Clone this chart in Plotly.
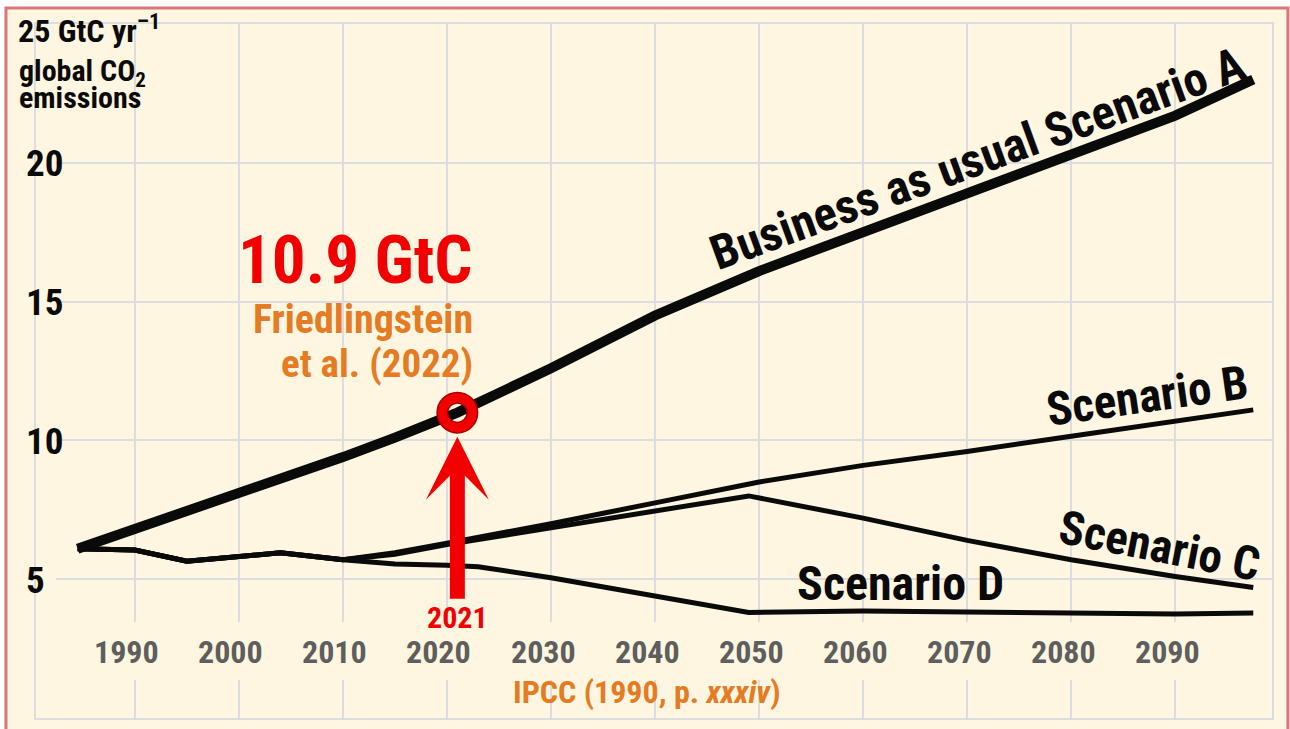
import plotly.graph_objects as go

# ---------------- data ----------------
years_A = [1984.5, 1990, 1995, 2000, 2005, 2010, 2015, 2021, 2030, 2040, 2050, 2060, 2070, 2080, 2090, 2097.5]
vals_A = [6.1, 6.8, 7.45, 8.15, 8.8, 9.4, 10.1, 11.0, 12.6, 14.5, 16.1, 17.5, 18.9, 20.3, 21.7, 23.0]

years_common = [1984.5, 1990, 1995, 2000, 2004, 2010]
vals_common = [6.1, 6.05, 5.65, 5.8, 5.95, 5.7]

years_B = [2015, 2020, 2030, 2040, 2050, 2060, 2070, 2080, 2090, 2097.5]
vals_B = [5.95, 6.3, 7.0, 7.75, 8.5, 9.1, 9.6, 10.15, 10.7, 11.1]

years_C = [2015, 2020, 2030, 2040, 2049, 2060, 2070, 2080, 2090, 2097.5]
vals_C = [5.9, 6.25, 6.85, 7.45, 8.0, 7.2, 6.4, 5.7, 5.1, 4.7]

years_D = [2015, 2020, 2023, 2030, 2040, 2049, 2060, 2070, 2080, 2090, 2097.5]
vals_D = [5.55, 5.5, 5.45, 5.05, 4.4, 3.8, 3.85, 3.82, 3.8, 3.75, 3.78]

obs_year = 2021
obs_value = 11.0
obs_label = "10.9 GtC"

x_ticks = [1990, 2000, 2010, 2020, 2030, 2040, 2050, 2060, 2070, 2080, 2090]
y_ticks = [5, 10, 15, 20]

# ---------------- styling ----------------
FONT = "Roboto Condensed, Liberation Sans, Arial, sans-serif"
CREAM = "#FEF6E0"
GRID = "#DDDDE1"
BORDER = "#D97679"
RED = "#F20000"
ORANGE = "#E57B22"
INK = "#0A0A0A"

X_RANGE = [1980.5, 2099.3]
Y_RANGE = [0, 25]

fig = go.Figure()

def add_line(xs, ys, width):
    fig.add_trace(go.Scatter(x=xs, y=ys, mode="lines",
                             line=dict(color=INK, width=width),
                             hoverinfo="skip", showlegend=False))

add_line(years_common + years_D, vals_common + vals_D, 5)
add_line(years_common + years_C, vals_common + vals_C, 5)
add_line(years_common + years_B, vals_common + vals_B, 5)
add_line(years_A, vals_A, 10)

# observed point ring
fig.add_trace(go.Scatter(x=[obs_year], y=[obs_value], mode="markers",
                         marker=dict(symbol="circle-open", size=30, color="#A80000",
                                     line=dict(width=12, color="#A80000")),
                         hoverinfo="skip", showlegend=False))
fig.add_trace(go.Scatter(x=[obs_year], y=[obs_value], mode="markers",
                         marker=dict(symbol="circle-open", size=30, color=RED,
                                     line=dict(width=9, color=RED)),
                         hoverinfo="skip", showlegend=False))

shapes = [
    # cream panel with border
    dict(type="rect", xref="paper", yref="paper", x0=-0.0243, x1=1.0129, y0=-0.03, y1=1.023,
         fillcolor=CREAM, line=dict(color=BORDER, width=3), layer="below"),
    # gap in vertical gridlines behind the x tick labels
    dict(type="rect", xref="x", yref="y", x0=X_RANGE[0], x1=X_RANGE[1], y0=1.37, y1=3.46,
         fillcolor=CREAM, line=dict(width=0), layer="between"),
    # horizontal gridlines start right of the y labels
    dict(type="rect", xref="x", yref="y", x0=X_RANGE[0], x1=1982.4, y0=Y_RANGE[0], y1=Y_RANGE[1],
         fillcolor=CREAM, line=dict(width=0), layer="between"),
]

annotations = []
for t in x_ticks:
    annotations.append(dict(x=t, y=2.38, xref="x", yref="y", text=f"<b>{t}</b>", showarrow=False,
                            xshift=-8, font=dict(family=FONT, size=32, color="#5E5E5E")))
for v in y_ticks:
    annotations.append(dict(x=0, y=v, xref="paper", yref="y", text=f"<b>{v}</b>", showarrow=False,
                            xanchor="left", xshift=-12, yshift=-1,
                            font=dict(family=FONT, size=37, color=INK)))

annotations += [
    dict(x=0, y=1, xref="paper", yref="paper", xanchor="left", yanchor="middle", xshift=-20, yshift=-5,
         text="<b>25 GtC yr<sup>–1</sup></b>", showarrow=False, font=dict(family=FONT, size=32, color=INK)),
    dict(x=0, y=1, xref="paper", yref="paper", xanchor="left", yanchor="middle", xshift=-19, yshift=-48,
         text="<b>global CO<sub>2</sub></b>", showarrow=False, font=dict(family=FONT, size=30, color=INK)),
    dict(x=0, y=1, xref="paper", yref="paper", xanchor="left", yanchor="middle", xshift=-19, yshift=-73,
         text="<b>emissions</b>", showarrow=False, font=dict(family=FONT, size=30, color=INK)),
    # scenario labels
    dict(x=2071.0, y=20.17, text="<b>Business as usual Scenario A</b>", textangle=-20, showarrow=False,
         font=dict(family=FONT, size=48, color=INK)),
    dict(x=2087.3, y=11.6, text="<b>Scenario B</b>", textangle=-8, showarrow=False,
         font=dict(family=FONT, size=47, color=INK)),
    dict(x=2088.5, y=6.2, text="<b>Scenario C</b>", textangle=11, showarrow=False,
         font=dict(family=FONT, size=47, color=INK)),
    dict(x=2063.6, y=4.84, text="<b>Scenario D</b>", showarrow=False,
         font=dict(family=FONT, size=48, color=INK)),
    # observation labels
    dict(x=2022.6, y=16.5, xanchor="right", text=f"<b>{obs_label}</b>", showarrow=False,
         font=dict(family=FONT, size=67, color=RED)),
    dict(x=2022.7, y=14.34, xanchor="right", text="<b>Friedlingstein</b>", showarrow=False,
         font=dict(family=FONT, size=40, color=ORANGE)),
    dict(x=2022.7, y=12.75, xanchor="right", text="<b>et al. (2022)</b>", showarrow=False,
         font=dict(family=FONT, size=39, color=ORANGE)),
    # arrow with year label
    dict(x=obs_year, y=obs_value, xref="x", yref="y", ax=0, ay=205, axref="pixel", ayref="pixel",
         text=f"<b>{obs_year}</b>", showarrow=True, arrowhead=3, arrowsize=0.7, arrowwidth=15,
         arrowcolor=RED, standoff=24, font=dict(family=FONT, size=30, color=RED)),
    # source
    dict(x=2039.2, y=0.94, text="<b>IPCC (1990, p. <i>xxxiv</i>)</b>", showarrow=False,
         font=dict(family=FONT, size=32, color=ORANGE)),
]

fig.update_layout(
    width=1290, height=729,
    margin=dict(l=36, r=18, t=24, b=11),
    paper_bgcolor="white",
    plot_bgcolor="rgba(0,0,0,0)",
    shapes=shapes,
    annotations=annotations,
    xaxis=dict(range=X_RANGE, tick0=1990, dtick=10, showgrid=True, gridcolor=GRID, gridwidth=2,
               showticklabels=False, ticks="", zeroline=False,
               showline=True, linecolor=GRID, linewidth=2, mirror=True, fixedrange=True),
    yaxis=dict(range=Y_RANGE, dtick=5, showgrid=True, gridcolor=GRID, gridwidth=2,
               showticklabels=False, ticks="", zeroline=False,
               showline=True, linecolor=GRID, linewidth=2, mirror=True, fixedrange=True),
    showlegend=False,
)

fig.write_html("out.html", config={"displayModeBar": False},
               post_script="document.body.style.margin='0px';")
